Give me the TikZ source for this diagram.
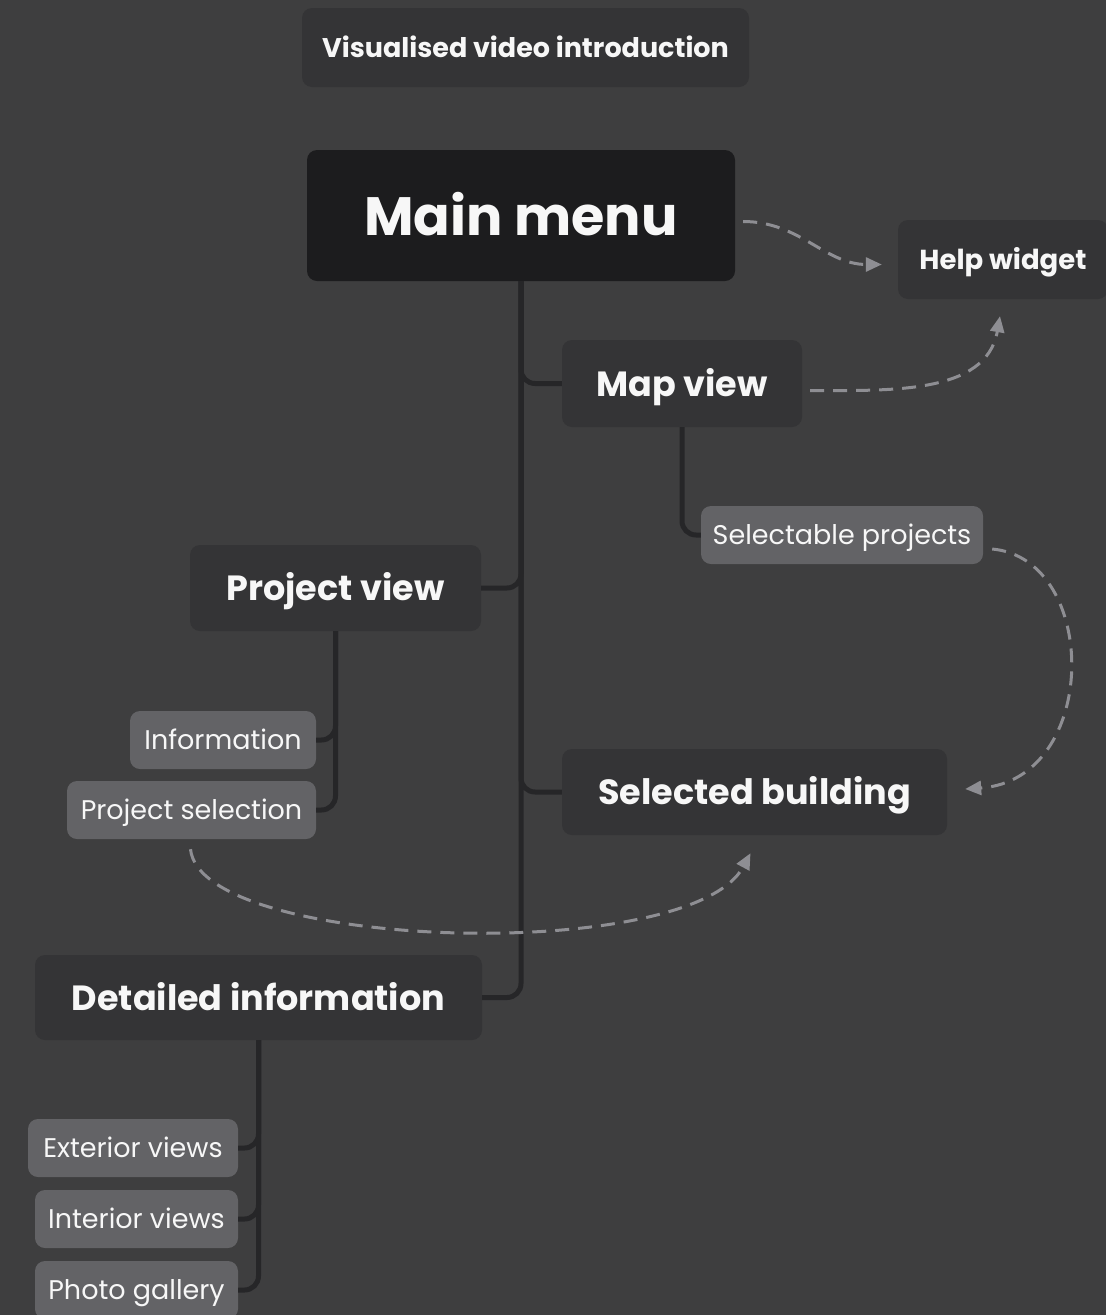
\documentclass[tikz,border=0pt]{standalone}
\usepackage{fontspec}
\setmainfont{Poppins}
\usetikzlibrary{arrows.meta}
\definecolor{bg}{HTML}{3E3E3F}
\definecolor{boxmid}{HTML}{343436}
\definecolor{boxdark}{HTML}{1C1C1E}
\definecolor{boxlight}{HTML}{636366}
\definecolor{wire}{HTML}{262628}
\definecolor{dashcol}{HTML}{8E8E93}
\definecolor{label}{HTML}{F7F7F7}
\tikzset{
  box/.style={rounded corners=10pt, inner sep=0pt, text=label, align=center, text depth=0pt},
  midbox/.style={box, fill=boxmid, text height=25pt, font=\bfseries\fontsize{35}{40}\selectfont},
  smallbold/.style={box, fill=boxmid, text height=20pt, font=\bfseries\fontsize{27.5}{30}\selectfont},
  leaf/.style={box, fill=boxlight, text height=19.5pt, font=\fontsize{27}{30}\selectfont},
  wirestyle/.style={draw=wire, line width=5pt, rounded corners=14pt},
  linkarrow/.style={draw=dashcol, line width=3pt, dash pattern=on 14pt off 9pt,
    -{Triangle[length=16pt,width=14pt]}},
}
\begin{document}
\begin{tikzpicture}[x=1pt,y=-1pt]
\fill[bg] (0,0) rectangle (1106,1315);
\useasboundingbox (0,0) rectangle (1106,1315);

% boxes
\node[smallbold, font=\bfseries\fontsize{27}{30}\selectfont, minimum width=447pt, minimum height=79pt] (intro) at (525.5,47.5) {Visualised video introduction};
\node[box, fill=boxdark, text height=39pt, font=\bfseries\fontsize{54}{60}\selectfont, minimum width=428pt, minimum height=131pt] (main) at (521,215.5) {Main menu};
\node[smallbold, minimum width=210pt, minimum height=79pt] (help) at (1003,259.5) {Help widget};
\node[midbox, minimum width=240pt, minimum height=87pt] (map) at (682,383.5) {Map view};
\node[leaf, minimum width=282pt, minimum height=58pt] (selproj) at (842,535) {Selectable projects};
\node[midbox, minimum width=291pt, minimum height=86pt] (projview) at (335.5,588) {Project view};
\node[leaf, minimum width=186pt, minimum height=58pt] (info) at (223,740) {Information};
\node[leaf, minimum width=249pt, minimum height=58pt] (psel) at (191.5,810) {Project selection};
\node[midbox, minimum width=385pt, minimum height=86pt] (selb) at (754.5,792) {Selected building};
\node[midbox, minimum width=447pt, minimum height=85pt] (detail) at (258.5,997.5) {Detailed information};
\node[leaf, minimum width=210pt, minimum height=58pt] (ext) at (133,1148) {Exterior views};
\node[leaf, minimum width=203pt, minimum height=58pt] (int) at (136.5,1219) {Interior views};
\node[leaf, minimum width=203pt, minimum height=58pt] (photo) at (136.5,1290) {Photo gallery};

% tree wiring
\draw[wirestyle] (main.south) |- (detail.east);
\draw[wirestyle] (main.south) |- (map.west);
\draw[wirestyle] (main.south) |- (projview.east);
\draw[wirestyle] (main.south) |- (selb.west);
\draw[wirestyle] (map.south) |- (selproj.west);
\draw[wirestyle] (projview.south) |- (info.east);
\draw[wirestyle] (projview.south) |- (psel.east);
\draw[wirestyle] (detail.south) |- (ext.east);
\draw[wirestyle] (detail.south) |- (int.east);
\draw[wirestyle] (detail.south) |- (photo.east);

% dashed links
\draw[linkarrow] ([xshift=8pt,yshift=-6pt]main.east) to[out=0,in=180] ([xshift=-16pt,yshift=-5pt]help.west);
\draw[linkarrow] ([xshift=8pt,yshift=-7pt]map.east) to[out=0,in=-100] ([xshift=-3pt,yshift=-17pt]help.south);
\draw[linkarrow] ([xshift=9pt,yshift=-14pt]selproj.east) .. controls +(108,10) and +(135,-9) .. ([xshift=18pt,yshift=3pt]selb.east);
\draw[linkarrow] ([xshift=-1pt,yshift=-10pt]psel.south) .. controls +(10,101) and +(-60,112) .. ([xshift=-4pt,yshift=-18pt]selb.south);
\end{tikzpicture}
\end{document}
